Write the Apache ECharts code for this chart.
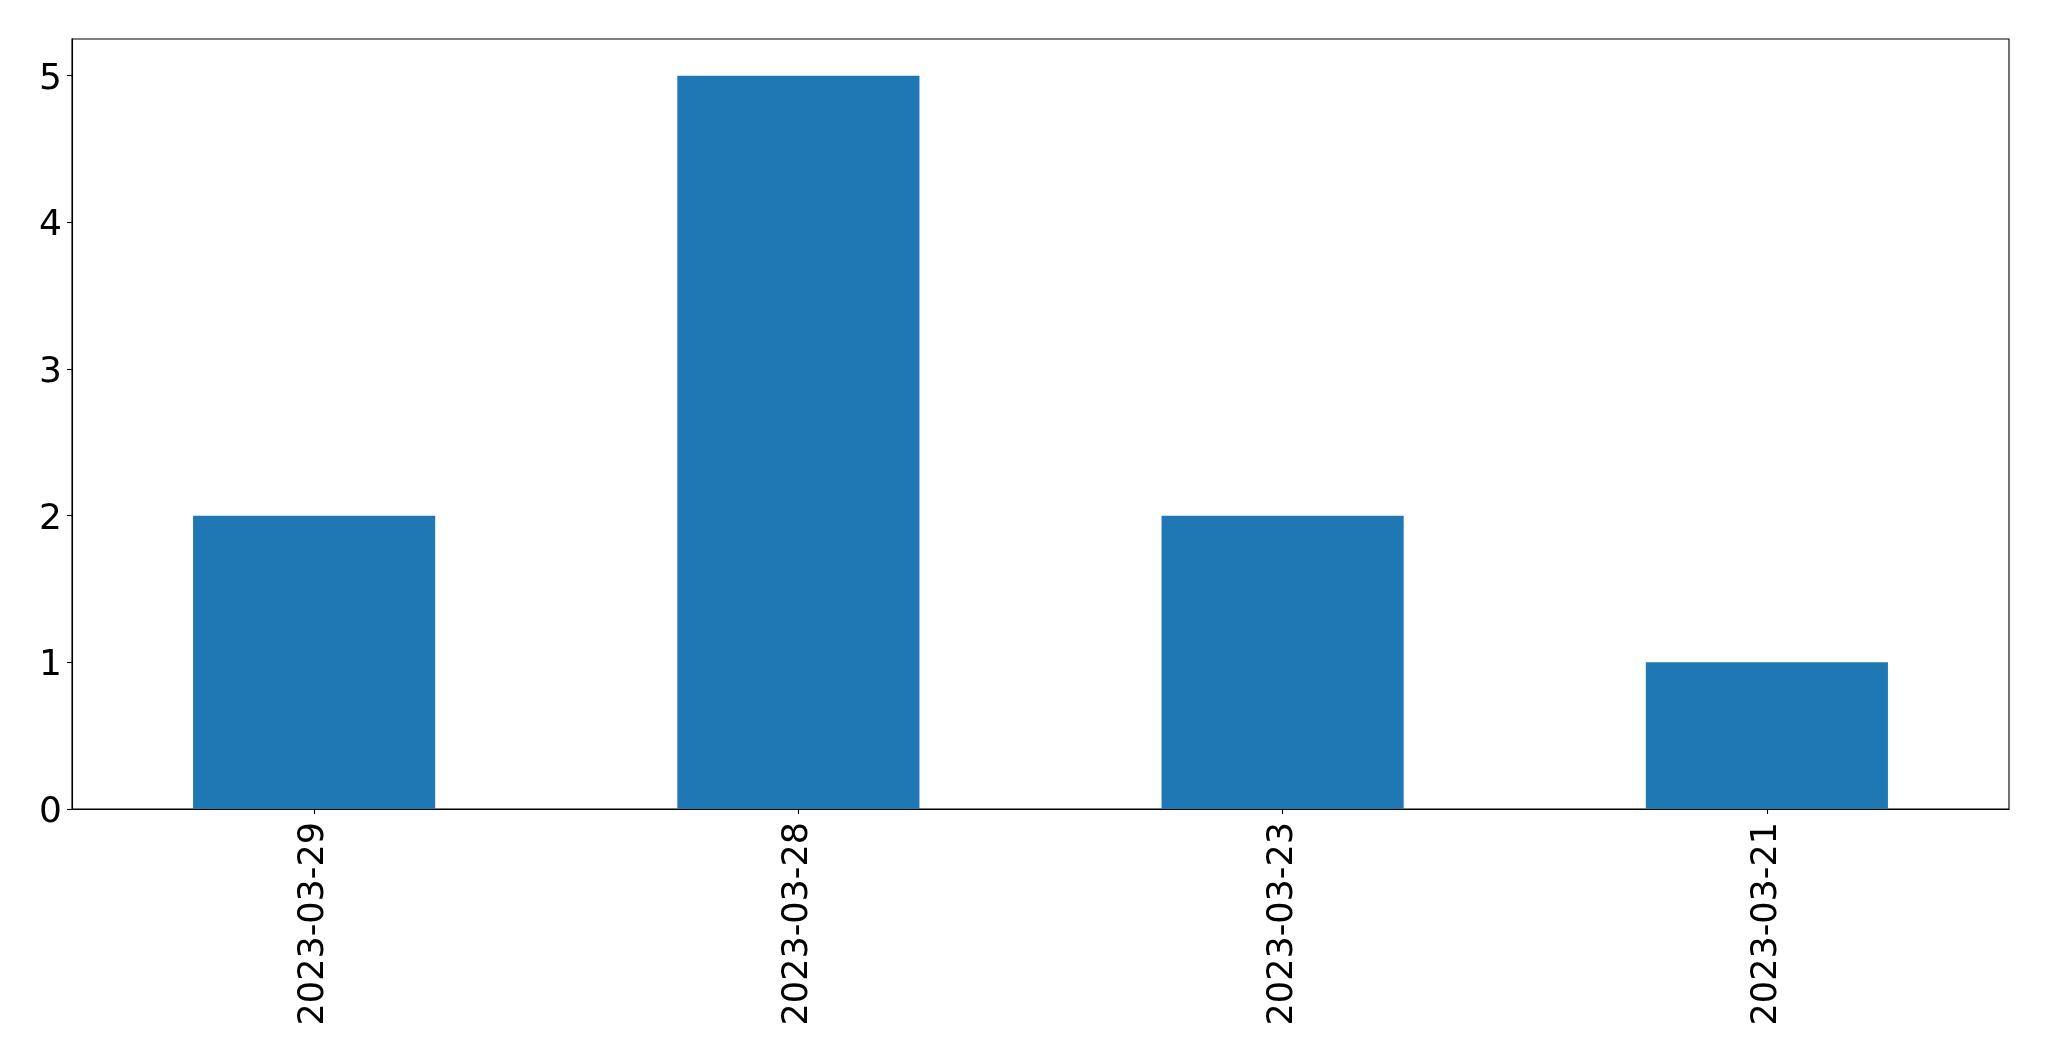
<!DOCTYPE html>
<html>
<head>
<meta charset="utf-8">
<script src="https://cdn.jsdelivr.net/npm/echarts@6/dist/echarts.min.js"></script>
<style>
html,body{margin:0;padding:0;background:#fff;}
#chart{width:2049px;height:1061px;}
</style>
</head>
<body>
<div id="chart"></div>
<script>
const categories = ['2023-03-29', '2023-03-28', '2023-03-23', '2023-03-21'];
const values = [2, 5, 2, 1];
const yTicks = [0, 1, 2, 3, 4, 5];

const chart = echarts.init(document.getElementById('chart'), null, {renderer: 'canvas'});
chart.setOption({
  animation: false,
  backgroundColor: '#ffffff',
  grid: {
    left: 72, right: 40, top: 39, bottom: 252,
    show: true, borderColor: '#000', borderWidth: 1.1, backgroundColor: 'transparent'
  },
  xAxis: {
    type: 'category',
    data: categories,
    boundaryGap: true,
    axisLine: {show: true, lineStyle: {color: '#000', width: 1.1}},
    axisTick: {show: true, alignWithLabel: true, length: 5, lineStyle: {color: '#000', width: 1.1}},
    axisLabel: {
      rotate: 90, color: '#000', fontSize: 35, fontFamily: 'DejaVu Sans', margin: 13
    },
    splitLine: {show: false}
  },
  yAxis: {
    type: 'value',
    min: 0, max: 5.25, interval: 1,
    axisLine: {show: true, lineStyle: {color: '#000', width: 1.1}},
    axisTick: {show: true, length: 5, customValues: yTicks, lineStyle: {color: '#000', width: 1.1}},
    axisLabel: {
      color: '#000', fontSize: 36, fontFamily: 'DejaVu Sans', margin: 10, customValues: yTicks,
      formatter: function (v) { return '{a|' + v + '}'; },
      rich: {a: {color: '#000', fontSize: 36, fontFamily: 'DejaVu Sans', padding: [7, 0, 0, 0]}}
    },
    splitLine: {show: false}
  },
  series: [{
    type: 'bar',
    data: values,
    barWidth: '50%',
    itemStyle: {color: '#1f77b4'}
  }]
});
</script>
</body>
</html>
